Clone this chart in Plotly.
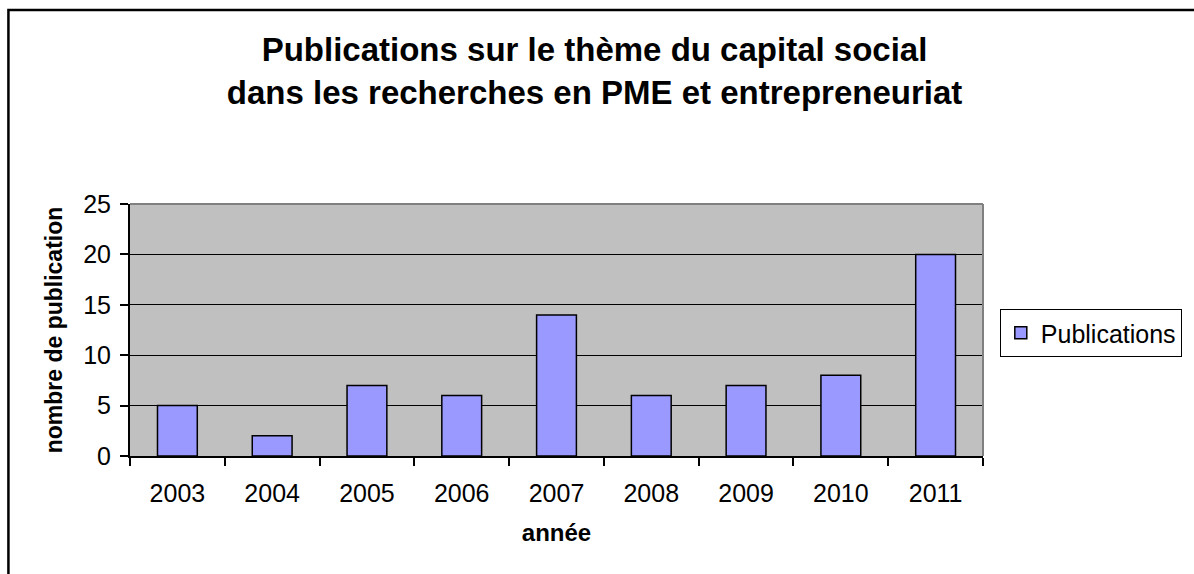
import plotly.graph_objects as go

years = ["2003", "2004", "2005", "2006", "2007", "2008", "2009", "2010", "2011"]
publications = [5, 2, 7, 6, 14, 6, 7, 8, 20]
y_ticks = [0, 5, 10, 15, 20, 25]

FONT = "Liberation Sans, Arial, sans-serif"

W, H = 1194, 574
L, R, T, B = 130, 201, 204, 118
pw, ph = W - L - R, H - T - B

def px_x(x):
    return (x - L) / pw

def px_y(y):
    return (H - B - y) / ph

fig = go.Figure()
fig.add_trace(go.Bar(
    x=years, y=publications, name="Publications",
    marker=dict(color="#9999FF", line=dict(color="black", width=1.5)),
    showlegend=True,
))

fig.update_layout(
    width=W, height=H,
    margin=dict(l=L, r=R, t=T, b=B),
    paper_bgcolor="white",
    plot_bgcolor="#C0C0C0",
    bargap=0.58,
    font=dict(family=FONT, size=25, color="black"),
    title=dict(
        text="Publications sur le thème du capital social<br>dans les recherches en PME et entrepreneuriat",
        x=px_x(600), xanchor="center", xref="paper",
        y=1 - 61 / H, yanchor="middle",
        font=dict(family=FONT, size=33, color="black", weight="bold"),
    ),
    showlegend=True,
    legend=dict(
        x=px_x(1010), y=px_y(309), xanchor="left", yanchor="top",
        bordercolor="black", borderwidth=1, bgcolor="white",
        font=dict(family=FONT, size=25),
        itemwidth=30,
    ),
    xaxis=dict(
        type="category",
        showline=True, linecolor="black", linewidth=2,
        ticks="outside", ticklen=8, tickcolor="black", tickwidth=1.5,
        tickson="boundaries",
        showgrid=False,
        tickfont=dict(family=FONT, size=25),
        ticklabelstandoff=14,
        title=dict(text="<b>année</b>", font=dict(family=FONT, size=24), standoff=18),
    ),
    yaxis=dict(
        range=[0, 25], tickvals=y_ticks,
        showline=True, linecolor="black", linewidth=2,
        ticks="outside", ticklen=8, tickcolor="black", tickwidth=1.5,
        showgrid=True, gridcolor="black", gridwidth=1.2,
        zeroline=False,
        tickfont=dict(family=FONT, size=25),
        ticklabelstandoff=4,
        title=dict(text="<b>nombre de publication</b>", font=dict(family=FONT, size=23), standoff=14),
    ),
    shapes=[
        dict(type="rect", xref="paper", yref="paper",
             x0=px_x(7), x1=px_x(1260), y0=px_y(640), y1=px_y(10),
             line=dict(color="black", width=2.5), fillcolor="rgba(0,0,0,0)", layer="below"),
        dict(type="line", xref="paper", yref="paper", x0=0, x1=1, y0=1, y1=1,
             line=dict(color="#808080", width=2)),
        dict(type="line", xref="paper", yref="paper", x0=1, x1=1, y0=0, y1=1,
             line=dict(color="#808080", width=2)),
    ],
)

fig.write_html("out.html", config={"displayModeBar": False},
               post_script="document.body.style.margin='0px';")
